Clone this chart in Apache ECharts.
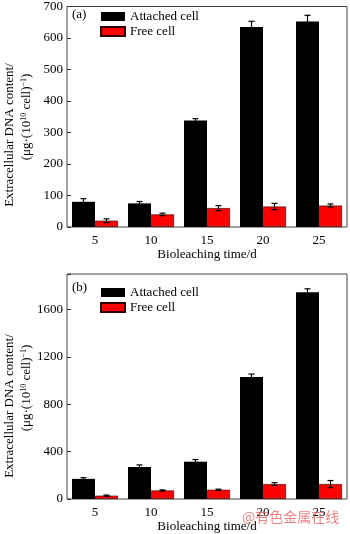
<!DOCTYPE html>
<html>
<head>
<meta charset="utf-8">
<script src="https://cdn.jsdelivr.net/npm/echarts@6/dist/echarts.min.js"></script>
<style>
  html, body { margin: 0; padding: 0; background: #fff; }
  #main { width: 350px; height: 534px; }
</style>
</head>
<body>
<div id="main"></div>
<script>
var days = ['5', '10', '15', '20', '25'];

// panel (a)
var attachedA = [80, 75, 338, 635, 652];
var attachedAErr = [10, 6, 6, 18, 20];
var freeA = [20, 40, 60, 65, 68];
var freeAErr = [6, 4, 8, 10, 5];

// panel (b)
var attachedB = [170, 270, 315, 1030, 1745];
var attachedBErr = [10, 18, 18, 25, 30];
var freeB = [28, 72, 78, 126, 126];
var freeBErr = [5, 5, 5, 12, 30];

var serif = 'Liberation Serif';
var barW = 23;

function errData(vals, errs) {
  return vals.map(function (v, i) { return [i, v, errs[i]]; });
}

// draws vertical error bar with caps, shifted to sit on its bar
function errRender(offset) {
  return function (params, api) {
    var i = api.value(0), v = api.value(1), e = api.value(2);
    var hi = api.coord([i, v + e]);
    var lo = api.coord([i, v - e]);
    var x = hi[0] + offset;
    var style = { stroke: '#000', lineWidth: 1.2 };
    return {
      type: 'group',
      children: [
        { type: 'line', shape: { x1: x, y1: hi[1], x2: x, y2: lo[1] }, style: style },
        { type: 'line', shape: { x1: x - 3, y1: hi[1], x2: x + 3, y2: hi[1] }, style: style },
        { type: 'line', shape: { x1: x - 3, y1: lo[1], x2: x + 3, y2: lo[1] }, style: style }
      ]
    };
  };
}

function xAxis(idx) {
  return {
    type: 'category', gridIndex: idx, data: days,
    name: 'Bioleaching time/d', nameLocation: 'middle', nameGap: 20,
    nameTextStyle: { fontFamily: serif, fontSize: 13, color: '#000' },
    axisLine: { show: false }, axisTick: { show: false },
    axisLabel: { margin: 7, fontFamily: serif, fontSize: 13, color: '#000' }
  };
}

function yAxis(idx, max, interval, hideTop) {
  return {
    type: 'value', gridIndex: idx, min: 0, max: max, interval: interval,
    axisLine: { show: false },
    axisTick: { show: true, inside: true, length: 4, lineStyle: { color: '#333' } },
    splitLine: { show: false },
    axisLabel: {
      margin: 4, fontFamily: serif, fontSize: 13, color: '#000',
      formatter: function (v) { return (hideTop && v === max) ? '' : String(v); }
    }
  };
}

function yTitle(cy) {
  return [
    {
      type: 'text', x: 10, y: cy + 20, rotation: Math.PI / 2,
      style: {
        text: 'Extracellular DNA content/', fontFamily: serif, fontSize: 13,
        fill: '#000', align: 'center', verticalAlign: 'middle'
      }
    },
    {
      type: 'text', x: 27, y: cy + 2, rotation: Math.PI / 2,
      style: {
        text: '(μg·(10{s|10} cell){s|−1})',
        rich: { s: { fontSize: 8, fontFamily: serif, verticalAlign: 'top', padding: [0, 0, 6, 0] } },
        fontFamily: serif, fontSize: 13, fill: '#000', align: 'center', verticalAlign: 'middle'
      }
    }
  ];
}

function legend(top) {
  return {
    left: 100, top: top, padding: 0, orient: 'vertical', itemWidth: 24, itemHeight: 9, itemGap: 2,
    icon: 'rect', data: ['Attached cell', 'Free cell'],
    textStyle: { fontFamily: serif, fontSize: 13, color: '#000' }
  };
}

var chart = echarts.init(document.getElementById('main'));

var option = {
  animation: false,
  grid: [
    { left: 67, top: 4, width: 280, height: 223, show: true, borderColor: '#444', borderWidth: 1, backgroundColor: 'transparent' },
    { left: 67, top: 274, width: 280, height: 225, show: true, borderColor: '#444', borderWidth: 1, backgroundColor: 'transparent' }
  ],
  legend: [legend(10), legend(286)],
  xAxis: [xAxis(0), xAxis(1)],
  yAxis: [yAxis(0, 700, 100, false), yAxis(1, 1900, 400, true)],
  series: [
    { name: 'Attached cell', type: 'bar', xAxisIndex: 0, yAxisIndex: 0, data: attachedA, barWidth: barW, barGap: 0, itemStyle: { color: '#000' } },
    { name: 'Free cell', type: 'bar', xAxisIndex: 0, yAxisIndex: 0, data: freeA, barWidth: barW, barGap: 0, itemStyle: { color: '#f00', borderColor: '#300', borderWidth: 0.6 } },
    { type: 'custom', xAxisIndex: 0, yAxisIndex: 0, data: errData(attachedA, attachedAErr), renderItem: errRender(-barW / 2), z: 5 },
    { type: 'custom', xAxisIndex: 0, yAxisIndex: 0, data: errData(freeA, freeAErr), renderItem: errRender(barW / 2), z: 5 },
    { name: 'Attached cell', type: 'bar', xAxisIndex: 1, yAxisIndex: 1, data: attachedB, barWidth: barW, barGap: 0, itemStyle: { color: '#000' } },
    { name: 'Free cell', type: 'bar', xAxisIndex: 1, yAxisIndex: 1, data: freeB, barWidth: barW, barGap: 0, itemStyle: { color: '#f00', borderColor: '#300', borderWidth: 0.6 } },
    { type: 'custom', xAxisIndex: 1, yAxisIndex: 1, data: errData(attachedB, attachedBErr), renderItem: errRender(-barW / 2), z: 5 },
    { type: 'custom', xAxisIndex: 1, yAxisIndex: 1, data: errData(freeB, freeBErr), renderItem: errRender(barW / 2), z: 5 }
  ],
  graphic: [
    { type: 'text', left: 72, top: 8, style: { text: '(a)', fontFamily: serif, fontSize: 13, fill: '#000' } },
    { type: 'text', left: 72, top: 281, style: { text: '(b)', fontFamily: serif, fontSize: 13, fill: '#000' } },
    {
      type: 'text', left: 242, top: 510, z: 100,
      style: { text: '@有色金属在线', fontFamily: 'Noto Sans CJK SC', fontSize: 14, fill: 'rgba(225,90,90,0.75)' }
    }
  ].concat(yTitle(115), yTitle(386))
};

chart.setOption(option);
</script>
</body>
</html>
